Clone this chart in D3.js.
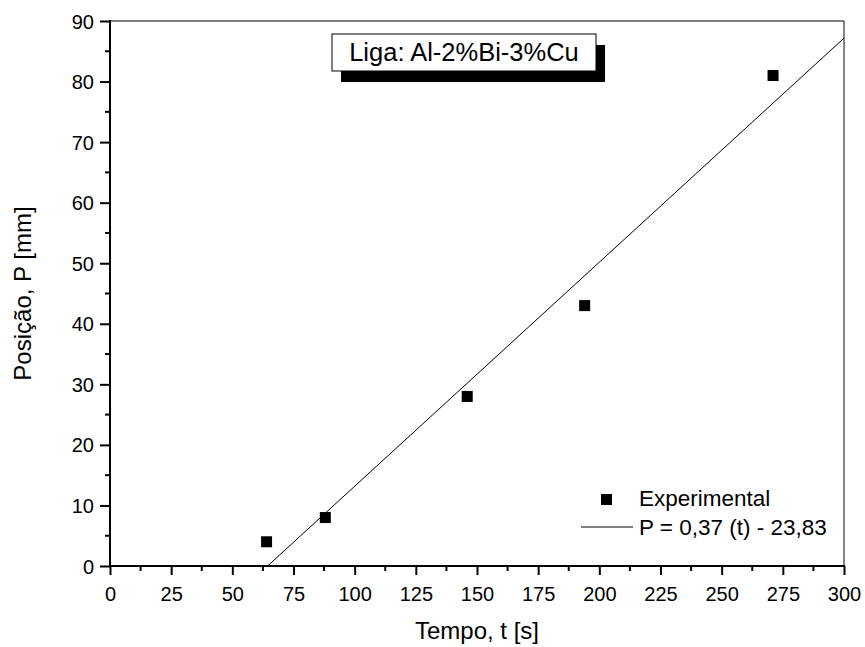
<!DOCTYPE html>
<html>
<head>
<meta charset="utf-8">
<script src="https://cdn.jsdelivr.net/npm/d3@7"></script>
<style>
  html, body { margin: 0; padding: 0; background: #fff; }
  svg text { font-family: Arial, "Liberation Sans", Helvetica, sans-serif; fill: #000; }
</style>
</head>
<body>
<svg id="chart" width="865" height="647"></svg>
<script>
// Solidification front position versus time
const times = [64, 88, 146, 194, 271];
const positions = [4, 8, 28, 43, 81];
const fitSlope = 0.37;
const fitIntercept = -23.83;
const xTicks = [0, 25, 50, 75, 100, 125, 150, 175, 200, 225, 250, 275, 300];
const yTicks = [0, 10, 20, 30, 40, 50, 60, 70, 80, 90];
const titleText = "Liga: Al-2%Bi-3%Cu";
const legendLabels = ["Experimental", "P = 0,37 (t) - 23,83"];
const xTitle = "Tempo, t [s]";
const yTitle = "Posição, P [mm]";

const svg = d3.select("#chart");
const W = 865, H = 647;
const m = { left: 110, right: 21, top: 21, bottom: 81 };
const x = d3.scaleLinear().domain([0, 300]).range([m.left, W - m.right]);
const y = d3.scaleLinear().domain([0, 90]).range([H - m.bottom, m.top]);

svg.append("defs").append("clipPath").attr("id", "plotclip")
  .append("rect").attr("x", x(0)).attr("y", y(90))
  .attr("width", x(300) - x(0)).attr("height", y(0) - y(90));

// thin top and right edges of the frame
svg.append("line").attr("x1", x(0)).attr("x2", x(300)).attr("y1", y(90)).attr("y2", y(90))
  .attr("stroke", "#000").attr("stroke-width", 1.2);
svg.append("line").attr("x1", x(300)).attr("x2", x(300)).attr("y1", y(90)).attr("y2", y(0))
  .attr("stroke", "#333").attr("stroke-width", 1.2);

// minor ticks halfway between the major ones
const xMinor = d3.range(12.5, 300, 25);
const yMinor = d3.range(5, 90, 10);

const gx = svg.append("g").attr("transform", `translate(0,${y(0)})`)
  .call(d3.axisBottom(x).tickValues(xTicks).tickSize(9).tickFormat(d3.format("d")));
gx.attr("font-family", null).attr("font-size", null);
gx.select(".domain").attr("stroke-width", 2).attr("d", `M${x(0) - 1},0H${x(300) + 1}`);
gx.selectAll(".tick line").attr("stroke-width", 2);
gx.selectAll(".tick text").attr("font-size", 20).attr("y", 35).attr("dy", null);
gx.selectAll(".minor").data(xMinor).enter().append("line")
  .attr("x1", d => x(d)).attr("x2", d => x(d)).attr("y1", 0).attr("y2", 5)
  .attr("stroke", "#000").attr("stroke-width", 2);

const gy = svg.append("g").attr("transform", `translate(${x(0)},0)`)
  .call(d3.axisLeft(y).tickValues(yTicks).tickSize(10).tickPadding(6).tickFormat(d3.format("d")));
gy.attr("font-family", null).attr("font-size", null);
gy.select(".domain").attr("stroke-width", 2).attr("d", `M0,${y(0) + 1}V${y(90) - 1}`);
gy.selectAll(".tick line").attr("stroke-width", 2);
gy.selectAll(".tick text").attr("font-size", 20).attr("dy", "0.35em");
gy.selectAll(".minor").data(yMinor).enter().append("line")
  .attr("x1", 0).attr("x2", -5).attr("y1", d => y(d)).attr("y2", d => y(d))
  .attr("stroke", "#000").attr("stroke-width", 2);

// linear fit, drawn from where it crosses P = 0 up to the right edge
const fitT0 = -fitIntercept / fitSlope;
svg.append("line")
  .attr("clip-path", "url(#plotclip)")
  .attr("x1", x(fitT0)).attr("y1", y(0))
  .attr("x2", x(300)).attr("y2", y(fitSlope * 300 + fitIntercept))
  .attr("stroke", "#000").attr("stroke-width", 1);

// experimental points
const sq = 11;
svg.selectAll(".pt").data(times).enter().append("rect")
  .attr("x", d => x(d) - sq / 2)
  .attr("y", (d, i) => y(positions[i]) - sq / 2)
  .attr("width", sq).attr("height", sq).attr("fill", "#000");

// alloy label with drop shadow
const bx = 332, by = 34, bw = 264, bh = 37;
svg.append("rect").attr("x", bx + 9).attr("y", by + 11).attr("width", bw).attr("height", bh).attr("fill", "#000");
svg.append("rect").attr("x", bx).attr("y", by).attr("width", bw).attr("height", bh)
  .attr("fill", "#fff").attr("stroke", "#000").attr("stroke-width", 1);
svg.append("text").attr("x", bx + bw / 2).attr("y", 61).attr("text-anchor", "middle")
  .attr("font-size", 25.5).text(titleText);

// legend
svg.append("rect").attr("x", 601).attr("y", 494).attr("width", sq).attr("height", sq).attr("fill", "#000");
svg.append("text").attr("x", 639).attr("y", 506).attr("font-size", 22.5).text(legendLabels[0]);
svg.append("line").attr("x1", 581).attr("x2", 633).attr("y1", 527).attr("y2", 527)
  .attr("stroke", "#000").attr("stroke-width", 1);
svg.append("text").attr("x", 639).attr("y", 535).attr("font-size", 22.5).text(legendLabels[1]);

// axis titles
svg.append("text").attr("x", (x(0) + x(300)) / 2).attr("y", 639).attr("text-anchor", "middle")
  .attr("font-size", 24).text(xTitle);
svg.append("text").attr("transform", `translate(31,${(y(0) + y(90)) / 2}) rotate(-90)`)
  .attr("text-anchor", "middle").attr("font-size", 24).text(yTitle);
</script>
</body>
</html>
